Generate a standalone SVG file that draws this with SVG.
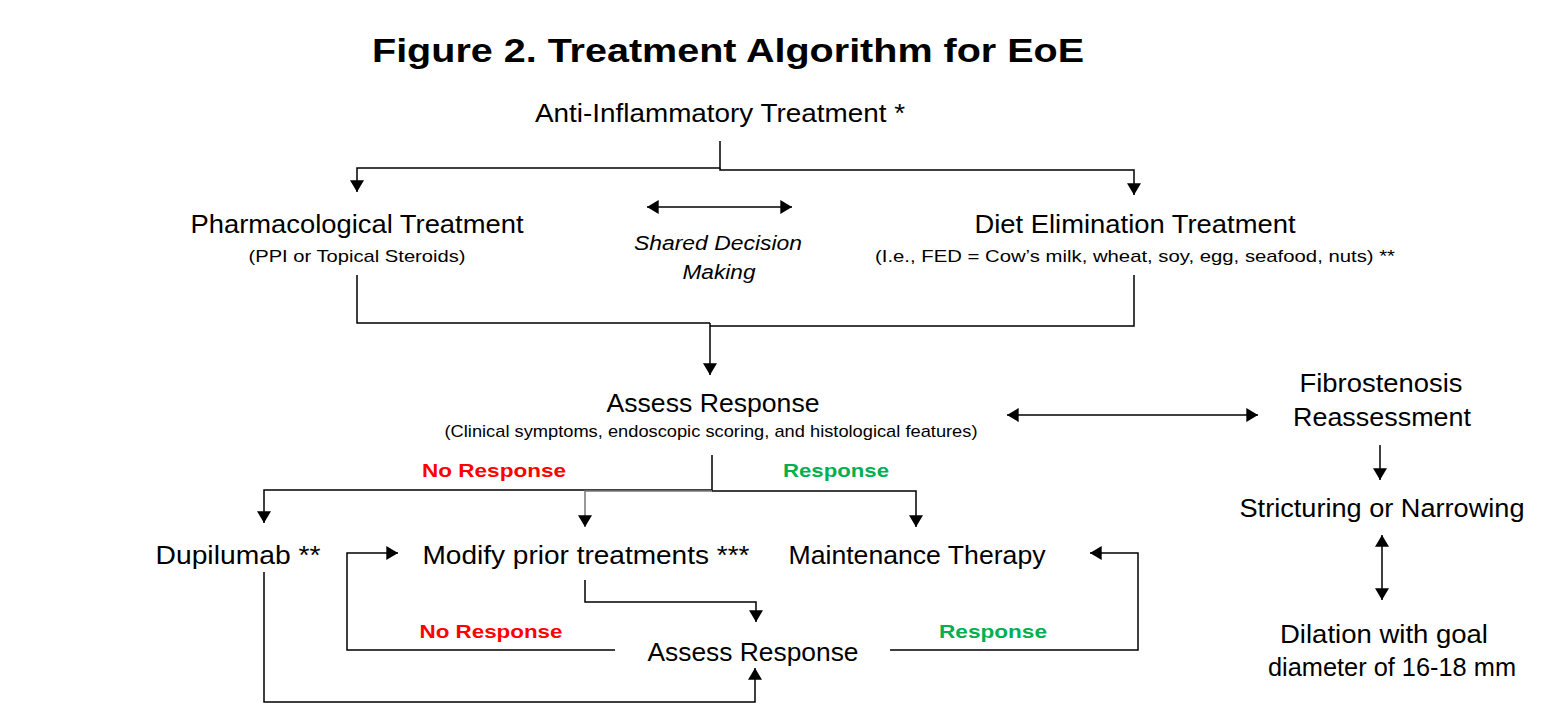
<svg xmlns="http://www.w3.org/2000/svg" width="1562" height="721" viewBox="0 0 1562 721">
<defs>
<style>
text{font-family:"Liberation Sans",Arial,sans-serif;fill:#000}
.t{font-size:34px;font-weight:bold}
.n{font-size:25px}
.w{font-size:26px}
.s{font-size:17px}
.i{font-size:20px;font-style:italic}
.r{font-size:19px;font-weight:bold;fill:#ff0000}
.g{font-size:19px;font-weight:bold;fill:#00b050}
.c path,.c line{fill:none;stroke:#000;stroke-width:1.5}
</style>
<marker id="b" viewBox="0 0 10 12" refX="10" refY="6" markerWidth="16" markerHeight="14" markerUnits="userSpaceOnUse" orient="auto-start-reverse"><path d="M0,0 L10,6 L0,12 z" fill="#000"/></marker>
</defs>
<rect width="1562" height="721" fill="#fff"/>
<text class="t" x="728" y="62" text-anchor="middle" textLength="712" lengthAdjust="spacingAndGlyphs">Figure 2. Treatment Algorithm for EoE</text>

<g id="anti"><text class="n" x="720" y="122" text-anchor="middle" textLength="370" lengthAdjust="spacingAndGlyphs">Anti-Inflammatory Treatment *</text></g>
<g id="pharm"><text class="n" x="357" y="233" text-anchor="middle" textLength="333" lengthAdjust="spacingAndGlyphs">Pharmacological Treatment</text>
<text class="s" x="357" y="262" text-anchor="middle" textLength="217" lengthAdjust="spacingAndGlyphs">(PPI or Topical Steroids)</text></g>
<g id="shared"><text class="i" x="718" y="250" text-anchor="middle" textLength="168" lengthAdjust="spacingAndGlyphs">Shared Decision</text>
<text class="i" x="719" y="279" text-anchor="middle" textLength="73" lengthAdjust="spacingAndGlyphs">Making</text></g>
<g id="diet"><text class="n" x="1135" y="233" text-anchor="middle" textLength="321" lengthAdjust="spacingAndGlyphs">Diet Elimination Treatment</text>
<text class="s" x="1135" y="262" text-anchor="middle" textLength="520" lengthAdjust="spacingAndGlyphs">(I.e., FED = Cow’s milk, wheat, soy, egg, seafood, nuts) **</text></g>
<g id="assess1"><text class="n" x="713" y="412" text-anchor="middle" textLength="213" lengthAdjust="spacingAndGlyphs">Assess Response</text>
<text class="s" x="711" y="437" text-anchor="middle" textLength="533" lengthAdjust="spacingAndGlyphs">(Clinical symptoms, endoscopic scoring, and histological features)</text></g>
<g id="fibro"><text class="w" x="1381" y="392" text-anchor="middle" textLength="163" lengthAdjust="spacingAndGlyphs">Fibrostenosis</text>
<text class="w" x="1382" y="426" text-anchor="middle" textLength="178" lengthAdjust="spacingAndGlyphs">Reassessment</text></g>
<g id="strict"><text class="w" x="1382" y="517" text-anchor="middle" textLength="285" lengthAdjust="spacingAndGlyphs">Stricturing or Narrowing</text></g>
<g id="dilation"><text class="w" x="1384" y="643" text-anchor="middle" textLength="208" lengthAdjust="spacingAndGlyphs">Dilation with goal</text>
<text class="w" x="1392" y="676" text-anchor="middle" textLength="248" lengthAdjust="spacingAndGlyphs">diameter of 16-18 mm</text></g>
<g id="dupi"><text class="n" x="238" y="564" text-anchor="middle" textLength="165" lengthAdjust="spacingAndGlyphs">Dupilumab **</text></g>
<g id="modify"><text class="n" x="586" y="564" text-anchor="middle" textLength="327" lengthAdjust="spacingAndGlyphs">Modify prior treatments ***</text></g>
<g id="maint"><text class="n" x="917" y="564" text-anchor="middle" textLength="257" lengthAdjust="spacingAndGlyphs">Maintenance Therapy</text></g>
<g id="assess2"><text class="n" x="753" y="661" text-anchor="middle" textLength="211" lengthAdjust="spacingAndGlyphs">Assess Response</text></g>

<g id="labels">
<text class="r" x="494" y="477" text-anchor="middle" textLength="144" lengthAdjust="spacingAndGlyphs">No Response</text>
<text class="g" x="836" y="477" text-anchor="middle" textLength="106" lengthAdjust="spacingAndGlyphs">Response</text>
<text class="r" x="491" y="638" text-anchor="middle" textLength="143" lengthAdjust="spacingAndGlyphs">No Response</text>
<text class="g" x="993" y="638" text-anchor="middle" textLength="108" lengthAdjust="spacingAndGlyphs">Response</text>
</g>

<g id="connectors" class="c">
<path d="M720,141 V168 H357 V192" marker-end="url(#b)"/>
<path d="M720,168 V170 H1134 V195" marker-end="url(#b)"/>
<line x1="647" y1="207" x2="792" y2="207" marker-start="url(#b)" marker-end="url(#b)"/>
<path d="M357,275 V323 H710"/>
<path d="M1134,275 V326 H710"/>
<path d="M710,323 V375" marker-end="url(#b)"/>
<line x1="1007" y1="415" x2="1258" y2="415" marker-start="url(#b)" marker-end="url(#b)"/>
<path d="M1380,445 V480" marker-end="url(#b)"/>
<line x1="1382" y1="535" x2="1382" y2="600" marker-start="url(#b)" marker-end="url(#b)"/>
<path d="M712,455 V490 H264 V523" marker-end="url(#b)"/>
<path d="M712,491 H585 V527" marker-end="url(#b)" style="stroke:#777"/>
<path d="M712,491 H916 V527" marker-end="url(#b)"/>
<path d="M615,650 H347 V553 H398" marker-end="url(#b)"/>
<path d="M585,580 V602 H756 V622" marker-end="url(#b)"/>
<path d="M890,650 H1138 V553 H1090" marker-end="url(#b)"/>
<path d="M264,572 V702 H755 V668" marker-end="url(#b)"/>
</g>
</svg>
